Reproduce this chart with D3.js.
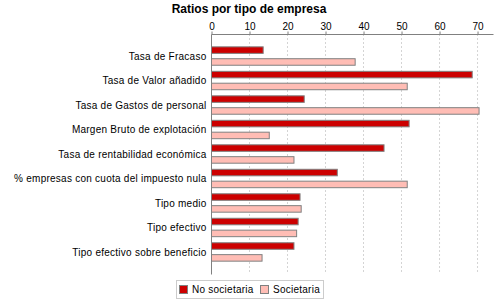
<!DOCTYPE html>
<html>
<head>
<meta charset="utf-8">
<script src="https://cdn.jsdelivr.net/npm/d3@7"></script>
<style>
  html, body { margin: 0; padding: 0; background: #fff; }
  svg { display: block; font-family: "Liberation Sans", Arial, sans-serif; }
</style>
</head>
<body>
<svg id="chart" width="500" height="300"></svg>
<script>
const categories = [
  "Tasa de Fracaso",
  "Tasa de Valor añadido",
  "Tasa de Gastos de personal",
  "Margen Bruto de explotación",
  "Tasa de rentabilidad económica",
  "% empresas con cuota del impuesto nula",
  "Tipo medio",
  "Tipo efectivo",
  "Tipo efectivo sobre beneficio"
];
const seriesNames = ["No societaria", "Societaria"];
const noSocietaria = [13.6, 68.6, 24.4, 52.0, 45.4, 33.1, 23.3, 22.8, 21.7];
const societaria   = [37.8, 51.5, 70.4, 15.2, 21.7, 51.5, 23.6, 22.4, 13.3];
const tickValues = [0, 10, 20, 30, 40, 50, 60, 70];
const colors = ["#cc0000", "#ffbdb5"];

const svg = d3.select("#chart");
const pLeft = 211, pRight = 493, pTop = 34, pBottom = 274;

const x = d3.scaleLinear().domain([0, 74.2]).range([pLeft, pRight]);
const y = d3.scaleBand().domain(categories).range([pTop, pBottom]).paddingInner(0).paddingOuter(0.4);
const sub = d3.scaleBand().domain(seriesNames).range([-9.2, 9.2]).paddingInner(0.45);

// title
svg.append("text").attr("x", 249).attr("y", 12.5).attr("text-anchor", "middle")
  .attr("font-size", 12).attr("font-weight", "bold").text("Ratios por tipo de empresa");

// gridlines
svg.append("g").selectAll("line").data(tickValues.filter(d => d > 0)).join("line")
  .attr("x1", d => x(d) + 0.5).attr("x2", d => x(d) + 0.5)
  .attr("y1", pTop).attr("y2", pBottom)
  .attr("stroke", "#d4d4d4").attr("stroke-dasharray", "2,2");

// top axis
const xAxis = d3.axisTop(x).tickValues(tickValues).tickSize(3).tickPadding(2);
const gx = svg.append("g").attr("transform", `translate(0.5,${pTop + 0.5})`).call(xAxis);
gx.select(".domain").attr("stroke", "#808080").attr("d", `M${pLeft},0H${pRight}`);
gx.selectAll(".tick line").attr("stroke", "#808080");
gx.selectAll(".tick text").attr("font-size", 10).attr("fill", "#000")
  .attr("font-family", "Liberation Sans, Arial, sans-serif");

// bars
const data = categories.map((c, i) => ({cat: c, vals: [noSocietaria[i], societaria[i]]}));
const groups = svg.append("g").selectAll("g").data(data).join("g")
  .attr("transform", d => `translate(0,${y(d.cat) + y.bandwidth() / 2})`);
groups.selectAll("rect").data(d => d.vals.map((v, j) => ({v, s: seriesNames[j], j}))).join("rect")
  .attr("x", x(0) + 0.5)
  .attr("y", d => sub(d.s))
  .attr("width", d => x(d.v) - x(0))
  .attr("height", sub.bandwidth())
  .attr("fill", d => colors[d.j])
  .attr("stroke", "#808080").attr("stroke-width", 1);

// left axis
const yAxis = d3.axisLeft(y).tickSize(0).tickPadding(5);
const gy = svg.append("g").attr("transform", `translate(${pLeft + 0.5},0.5)`).call(yAxis);
gy.select(".domain").attr("stroke", "#808080").attr("d", `M0,${pTop}V${pBottom}`);
gy.selectAll(".tick text").attr("font-size", 10).attr("fill", "#000")
  .attr("letter-spacing", "0.25px")
  .attr("font-family", "Liberation Sans, Arial, sans-serif");

// legend
const lg = svg.append("g");
lg.append("rect").attr("x", 176.5).attr("y", 280.5).attr("width", 147).attr("height", 18)
  .attr("fill", "#fff").attr("stroke", "#cccccc");
const legendX = [179, 260], textX = [192, 273];
seriesNames.forEach((s, j) => {
  lg.append("rect").attr("x", legendX[j] + 0.5).attr("y", 285.5).attr("width", 8).attr("height", 8)
    .attr("fill", colors[j]).attr("stroke", "#808080");
  lg.append("text").attr("x", textX[j]).attr("y", 293).attr("font-size", 10)
    .attr("letter-spacing", "0.25px").text(s);
});
</script>
</body>
</html>
